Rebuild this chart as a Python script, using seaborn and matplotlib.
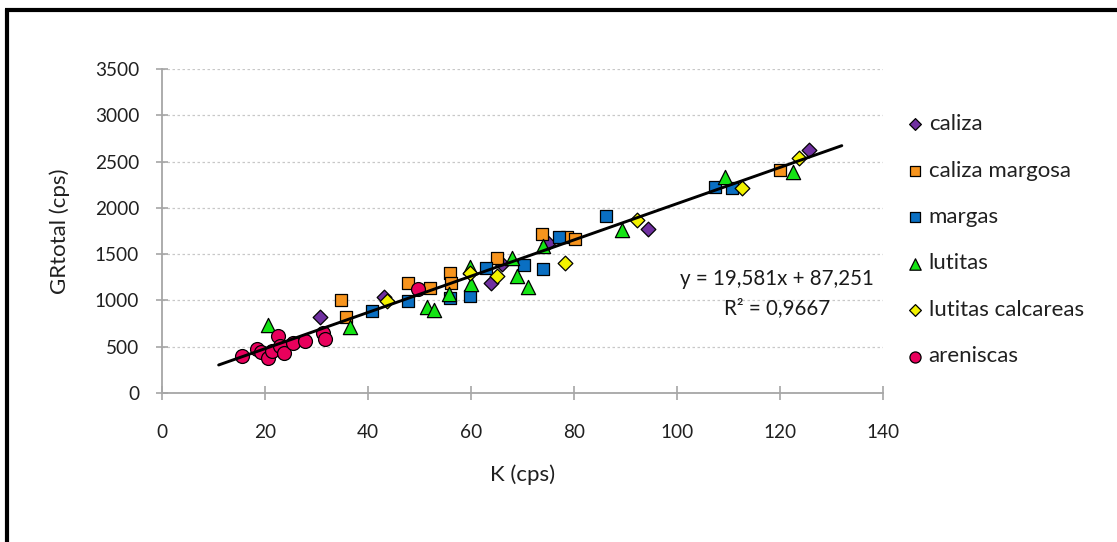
import matplotlib
matplotlib.use("Agg")
import matplotlib.pyplot as plt
from matplotlib.lines import Line2D
import numpy as np
import pandas as pd
import seaborn as sns

# K (cps) vs GR total (cps) for each lithology
caliza_x = [30.7, 43.2, 63.9, 66.1, 75.0, 94.4, 125.7]
caliza_y = [823, 1040, 1190, 1390, 1620, 1775, 2630]

margosa_x = [34.8, 35.7, 47.8, 52.0, 55.9, 56.1, 65.0, 73.8, 78.7, 80.2, 120.0]
margosa_y = [1000, 823, 1190, 1130, 1300, 1190, 1460, 1720, 1680, 1660, 2410]

margas_x = [40.7, 47.8, 55.9, 59.8, 63.0, 70.2, 74.0, 77.1, 86.2, 107.4, 110.6]
margas_y = [884, 992, 1030, 1047, 1345, 1380, 1344, 1688, 1916, 2225, 2214]

lutitas_x = [20.5, 36.6, 51.4, 52.9, 55.8, 59.8, 60.0, 68.0, 68.9, 71.0, 74.0, 89.3, 109.3, 122.6]
lutitas_y = [730, 710, 931, 902, 1073, 1365, 1180, 1455, 1264, 1150, 1590, 1760, 2330, 2390]

calcareas_x = [43.6, 59.8, 65.0, 78.3, 92.3, 112.6, 123.6]
calcareas_y = [990, 1300, 1268, 1405, 1873, 2214, 2540]

areniscas_x = [15.5, 18.4, 19.2, 20.6, 21.3, 22.6, 22.9, 23.6, 25.5, 27.8, 31.3, 31.7, 49.8]
areniscas_y = [395, 475, 440, 377, 449, 612, 503, 431, 540, 565, 649, 584, 1127]

series_names = ["caliza", "caliza margosa", "margas", "lutitas", "lutitas calcareas", "areniscas"]

# linear fit reported on the chart
slope = 19.581
intercept = 87.251
r2 = 0.9667
fit_range = [11.0, 132.0]

x_ticks = [0, 20, 40, 60, 80, 100, 120, 140]
y_ticks = [0, 500, 1000, 1500, 2000, 2500, 3000, 3500]

sns.set_theme(style="white")
plt.rcParams["font.family"] = ["Lato", "DejaVu Sans"]

fig = plt.figure(figsize=(11.17, 5.42), dpi=100)
ax = fig.add_axes([162 / 1117, 1 - 393 / 542, (883 - 162) / 1117, (393 - 69) / 542])

styles = {
    "caliza": dict(marker="D", color="#7030A0", s=56),
    "caliza margosa": dict(marker="s", color="#F7941D", s=82),
    "margas": dict(marker="s", color="#0A6FC2", s=82),
    "lutitas": dict(marker="^", color="#14E414", s=105),
    "lutitas calcareas": dict(marker="D", color="#F2F200", s=56),
    "areniscas": dict(marker="o", color="#E8005C", s=100),
}
data = {
    "caliza": (caliza_x, caliza_y),
    "caliza margosa": (margosa_x, margosa_y),
    "margas": (margas_x, margas_y),
    "lutitas": (lutitas_x, lutitas_y),
    "lutitas calcareas": (calcareas_x, calcareas_y),
    "areniscas": (areniscas_x, areniscas_y),
}

for name in series_names:
    xs, ys = data[name]
    df = pd.DataFrame({"K": xs, "GR": ys})
    st = styles[name]
    sns.scatterplot(data=df, x="K", y="GR", ax=ax, marker=st["marker"], color=st["color"],
                    s=st["s"], edgecolor="black", linewidth=0.9, label=name, zorder=3)

# trend line
fx = np.array(fit_range)
fit_df = pd.DataFrame({"K": fx, "GR": slope * fx + intercept})
sns.lineplot(data=fit_df, x="K", y="GR", ax=ax, color="black", linewidth=2.1, zorder=4, legend=False)

ax.set_xlim(0, 140)
ax.set_ylim(0, 3500)
ax.set_xticks(x_ticks)
ax.set_yticks(y_ticks)
ax.set_xticklabels([str(v) for v in x_ticks])
ax.set_yticklabels([str(v) for v in y_ticks])

ax.yaxis.grid(True, color="#C8C8C8", linestyle=(0, (2, 2)), linewidth=0.9)
ax.xaxis.grid(False)
ax.set_axisbelow(True)

for side in ["top", "right"]:
    ax.spines[side].set_visible(False)
for side in ["left", "bottom"]:
    ax.spines[side].set_color("#A6A6A6")
    ax.spines[side].set_linewidth(1.3)

ax.tick_params(axis="y", direction="inout", length=9, width=1.2, color="#A6A6A6",
               labelsize=13.7, labelcolor="#202020", pad=12, left=True)
ax.tick_params(axis="x", direction="inout", length=10, width=1.2, color="#A6A6A6",
               labelsize=13.7, labelcolor="#202020", pad=17, bottom=True)

ax.set_xlabel("K (cps)", fontsize=16, color="#202020", labelpad=17)
ax.set_ylabel("GRtotal (cps)", fontsize=16, color="#202020", labelpad=18)

ax.text(119.5, 1228, f"y = {slope:.3f}x + {intercept:.3f}".replace(".", ","),
        ha="center", va="center", fontsize=14.8, color="#1a1a1a")
ax.text(119.5, 913, f"R² = {r2:.4f}".replace(".", ","),
        ha="center", va="center", fontsize=14.8, color="#1a1a1a")

handles, labels = ax.get_legend_handles_labels()
leg = ax.legend(handles, labels, loc="upper left", bbox_to_anchor=(892 / 1117, 1 - 103 / 542),
                bbox_transform=fig.transFigure, frameon=False, fontsize=16, labelspacing=1.19,
                handletextpad=0.05, handlelength=1.1, markerscale=0.8, borderpad=0)
for t in leg.get_texts():
    t.set_color("#202020")

# outer frame (top and left edges)
fig.add_artist(Line2D([5 / 1117, 1.0], [1 - 10 / 542, 1 - 10 / 542], transform=fig.transFigure,
                      color="black", linewidth=3.0, solid_capstyle="butt"))
fig.add_artist(Line2D([7 / 1117, 7 / 1117], [0.0, 1 - 8.5 / 542], transform=fig.transFigure,
                      color="black", linewidth=3.0, solid_capstyle="butt"))

fig.savefig("out.png", dpi=100, facecolor="white")
